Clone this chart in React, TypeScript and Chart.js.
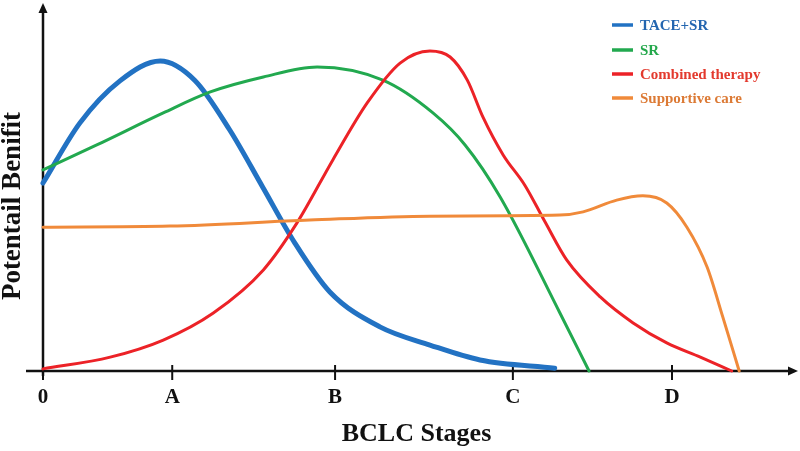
import React, { useEffect, useRef } from "react";
import { Chart, registerables } from "chart.js";

Chart.register(...registerables);

// x positions in arbitrary stage units (0..100), y in benefit units (0..92.7)
const X_TICK_VALUES = [0, 17.3, 39.1, 62.9, 84.2];
const X_TICK_LABELS = ["0", "A", "B", "C", "D"];

const SERIES_NAMES = ["TACE+SR", "SR", "Combined therapy", "Supportive care"];

const TACE_X = [0, 4.95, 10.3, 15.7, 20.3, 25.0, 29.4, 33.7, 38.4, 45.1, 51.8, 58.5, 68.5];
const TACE_Y = [52.8, 69.7, 81.5, 87.1, 81.7, 67.7, 51.7, 36.0, 22.2, 12.4, 7.3, 3.1, 0.8];

const SR_X = [0, 7.2, 16.1, 22.4, 29.5, 36.7, 45.5, 52.2, 56.5, 61.2, 69.2, 73.1];
const SR_Y = [56.5, 63.5, 72.5, 78.4, 82.6, 85.4, 81.7, 72.5, 63.5, 48.9, 16.3, 0];

const COMB_X = [0, 9.0, 16.1, 22.8, 29.5, 34.0, 38.8, 43.4, 47.8, 51.8, 54.5, 56.8, 58.9, 61.6, 64.5, 67.2, 70.1, 74.6, 79.0, 83.5, 88.0, 92.2];
const COMB_Y = [0.6, 3.9, 8.7, 16.3, 28.4, 41.6, 59.3, 75.3, 86.5, 89.9, 88.2, 81.7, 71.3, 60.7, 52.2, 41.9, 31.2, 20.8, 13.5, 7.9, 3.9, 0];

const SUPP_X = [0, 17.0, 35.7, 51.8, 69.2, 72.3, 76.8, 80.3, 83.5, 86.2, 88.9, 91.0, 93.2];
const SUPP_Y = [40.4, 40.7, 42.4, 43.5, 43.8, 44.7, 48.0, 49.2, 47.2, 40.4, 29.2, 15.2, 0];

const LINE_COLORS = ["#2272c3", "#22a94f", "#ec2227", "#f08a3a"];
const TEXT_COLORS = ["#2466b0", "#24a84c", "#e33a2e", "#dc7a35"];
const LINE_WIDTHS = [5, 3, 3, 3];

const SERIF = "'Liberation Serif', 'Times New Roman', serif";

const toPoints = (xs: number[], ys: number[]) => xs.map((x, i) => ({ x, y: ys[i] }));

const axesPlugin = {
  id: "axesArrows",
  beforeDatasetsDraw(chart: any) {
    const { ctx, chartArea, scales } = chart;
    const x0 = chartArea.left;
    const y0 = chartArea.bottom;
    ctx.save();
    ctx.strokeStyle = "#111";
    ctx.fillStyle = "#111";
    ctx.lineWidth = 2.5;
    // x axis
    ctx.beginPath();
    ctx.moveTo(x0 - 17, y0);
    ctx.lineTo(chart.width - 8, y0);
    ctx.stroke();
    ctx.beginPath();
    ctx.moveTo(chart.width - 2, y0);
    ctx.lineTo(chart.width - 12, y0 - 4.5);
    ctx.lineTo(chart.width - 12, y0 + 4.5);
    ctx.closePath();
    ctx.fill();
    // y axis
    ctx.beginPath();
    ctx.moveTo(x0, y0 + 5);
    ctx.lineTo(x0, 10);
    ctx.stroke();
    ctx.beginPath();
    ctx.moveTo(x0, 3);
    ctx.lineTo(x0 - 4.5, 13);
    ctx.lineTo(x0 + 4.5, 13);
    ctx.closePath();
    ctx.fill();
    // tick marks crossing x axis
    ctx.lineWidth = 2;
    for (const t of scales.x.ticks) {
      const px = scales.x.getPixelForValue(t.value);
      ctx.beginPath();
      ctx.moveTo(px, y0 - 6);
      ctx.lineTo(px, y0 + 9);
      ctx.stroke();
    }
    ctx.restore();
  },
};

const legendPlugin = {
  id: "customLegend",
  afterDraw(chart: any) {
    const { ctx } = chart;
    ctx.save();
    ctx.font = `bold 15px ${SERIF}`;
    ctx.textBaseline = "middle";
    ctx.textAlign = "left";
    const rows = [25, 50, 74, 98];
    chart.data.datasets.forEach((ds: any, i: number) => {
      const y = rows[i];
      ctx.strokeStyle = ds.borderColor;
      ctx.lineWidth = 3.5;
      ctx.beginPath();
      ctx.moveTo(612, y);
      ctx.lineTo(633, y);
      ctx.stroke();
      ctx.fillStyle = TEXT_COLORS[i];
      ctx.fillText(ds.label, 640, y + 1);
    });
    ctx.restore();
  },
};

export default function App() {
  const ref = useRef<HTMLCanvasElement>(null);

  useEffect(() => {
    if (!ref.current) return;
    const seriesX = [TACE_X, SR_X, COMB_X, SUPP_X];
    const seriesY = [TACE_Y, SR_Y, COMB_Y, SUPP_Y];
    const datasets = SERIES_NAMES.map((name, i) => ({
      label: name,
      data: toPoints(seriesX[i], seriesY[i]),
      borderColor: LINE_COLORS[i],
      backgroundColor: LINE_COLORS[i],
      borderWidth: LINE_WIDTHS[i],
      pointRadius: 0,
      cubicInterpolationMode: "monotone" as const,
      borderCapStyle: "round" as const,
      borderJoinStyle: "round" as const,
      fill: false,
      clip: false as any,
      order: 3 - i,
    }));

    const chart = new Chart(ref.current, {
      type: "line",
      data: { datasets },
      plugins: [axesPlugin, legendPlugin],
      options: {
        animation: false,
        responsive: false,
        layout: { padding: { top: 41, right: 10, left: 0, bottom: 0 } },
        plugins: {
          legend: { display: false },
          tooltip: { enabled: false },
        },
        scales: {
          x: {
            type: "linear",
            min: 0,
            max: 100,
            grid: { display: false, drawTicks: false },
            border: { display: false },
            afterBuildTicks: (scale: any) => {
              scale.ticks = X_TICK_VALUES.map((v) => ({ value: v }));
            },
            afterFit: (scale: any) => {
              scale.height = 80;
            },
            ticks: {
              autoSkip: false,
              maxRotation: 0,
              padding: 14,
              color: "#111",
              font: { family: SERIF, size: 21, weight: "bold" },
              callback: (_v: any, index: number) => X_TICK_LABELS[index],
            },
            title: {
              display: true,
              text: "BCLC Stages",
              color: "#111",
              font: { family: SERIF, size: 26, weight: "bold", lineHeight: 1 },
              padding: { top: 0, bottom: 4 },
            },
          },
          y: {
            type: "linear",
            min: 0,
            max: 92.7,
            grid: { display: false, drawTicks: false },
            border: { display: false },
            ticks: { display: false },
            afterFit: (scale: any) => {
              scale.width = 43;
            },
            title: {
              display: true,
              text: "Potentail Benifit",
              color: "#111",
              font: { family: SERIF, size: 27, weight: "bold", lineHeight: 1 },
              padding: { top: 0, bottom: 0 },
            },
          },
        },
      },
    });
    return () => chart.destroy();
  }, []);

  return (
    <div style={{ position: "absolute", left: 0, top: 0, width: 800, height: 451, background: "#fff" }}>
      <canvas ref={ref} width={800} height={451} style={{ display: "block" }} />
    </div>
  );
}
